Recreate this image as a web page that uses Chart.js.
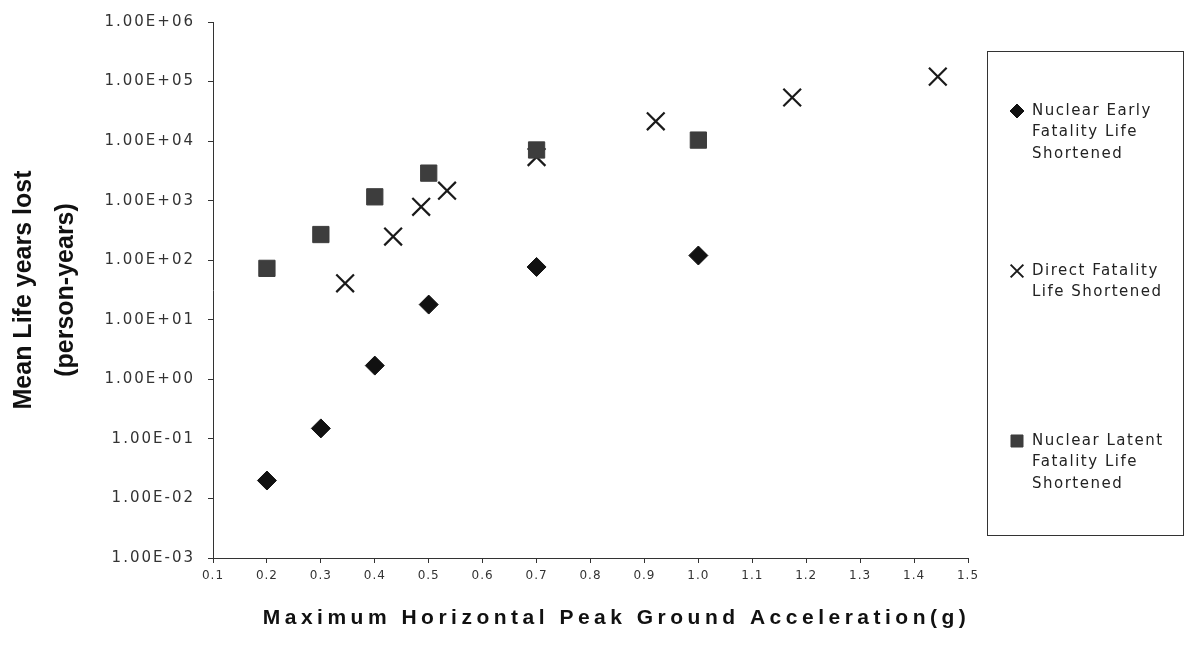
<!DOCTYPE html>
<html>
<head>
<meta charset="utf-8">
<script src="https://cdn.jsdelivr.net/npm/chart.js@4/dist/chart.umd.min.js"></script>
<style>
html,body{margin:0;padding:0;background:#fff;}
canvas{display:block;}
</style>
</head>
<body>
<canvas id="c" width="1185" height="646"></canvas>
<script>
// ---- data ----
const xTicks = [0.1,0.2,0.3,0.4,0.5,0.6,0.7,0.8,0.9,1.0,1.1,1.2,1.3,1.4,1.5];
const xTickLabels = ['0.1','0.2','0.3','0.4','0.5','0.6','0.7','0.8','0.9','1.0','1.1','1.2','1.3','1.4','1.5'];
const yTicks = [1e-3,1e-2,1e-1,1e0,1e1,1e2,1e3,1e4,1e5,1e6];
const yTickLabels = ['1.00E-03','1.00E-02','1.00E-01','1.00E+00','1.00E+01','1.00E+02','1.00E+03','1.00E+04','1.00E+05','1.00E+06'];

const seriesNames = ['Nuclear Early Fatality Life Shortened','Direct Fatality Life Shortened','Nuclear Latent Fatality Life Shortened'];
const legendLines = [['Nuclear Early','Fatality Life','Shortened'],['Direct Fatality','Life Shortened'],['Nuclear Latent','Fatality Life','Shortened']];

const earlyX = [0.2,0.3,0.4,0.5,0.7,1.0];
const earlyY = [0.02,0.15,1.7,18,77,120];
const directX = [0.345,0.434,0.486,0.534,0.70,0.921,1.174,1.444];
const directY = [41,250,790,1470,5400,21500,54000,121000];
const latentX = [0.2,0.3,0.4,0.5,0.7,1.0];
const latentY = [73,270,1160,2900,7100,10400];

const xTitle = 'Maximum Horizontal Peak Ground Acceleration(g)';
const yTitle = ['Mean Life years lost','(person-years)'];

function pts(xs, ys){ return xs.map((x,i)=>({x:x, y:ys[i]})); }

// ---- plugins ----
const spacingPlugin = {
  id:'spacing',
  afterLayout(chart){
    const cfg = {x:{title:'4.5px', labels:'1px', dx:26}, y:{title:'0px', labels:'2px', dx:0}};
    for (const id of ['x','y']) {
      const s = chart.scales[id];
      if (!s || s._wrappedSp) continue;
      const c = cfg[id];
      const oT = s.drawTitle, oL = s.drawLabels;
      s.drawTitle = function(...a){ const ctx=this.ctx; ctx.save(); ctx.letterSpacing=c.title; ctx.translate(c.dx,0); oT.apply(this,a); ctx.restore(); };
      s.drawLabels = function(...a){ const ctx=this.ctx; ctx.save(); ctx.letterSpacing=c.labels; oL.apply(this,a); ctx.restore(); };
      s._wrappedSp = true;
    }
  }
};

const legendPlugin = {
  id:'boxLegend',
  afterDraw(chart){
    const ctx = chart.ctx;
    ctx.save();
    ctx.strokeStyle = '#333';
    ctx.lineWidth = 1;
    ctx.strokeRect(987.5, 51.5, 196, 484);
    const starts = [111, 271, 441];
    const markers = [
      {pointStyle:'rectRot', radius:7, borderWidth:1, fill:'#111', stroke:'#111'},
      {pointStyle:'crossRot', radius:9, borderWidth:2, fill:'#1a1a1a', stroke:'#1a1a1a'},
      {pointStyle:'rect', radius:8.5, borderWidth:1, fill:'#3d3d3d', stroke:'#3d3d3d'}
    ];
    ctx.font = '15px "DejaVu Sans"';
    ctx.textBaseline = 'middle';
    ctx.textAlign = 'left';
    legendLines.forEach((lines, k) => {
      const m = markers[k];
      ctx.fillStyle = m.fill; ctx.strokeStyle = m.stroke; ctx.lineWidth = m.borderWidth;
      Chart.helpers.drawPoint(ctx, {pointStyle:m.pointStyle, radius:m.radius, rotation:0, borderWidth:m.borderWidth}, 1017, starts[k]);
      ctx.fillStyle = '#222';
      ctx.letterSpacing = '1.5px';
      lines.forEach((t, j) => ctx.fillText(t, 1032, starts[k] + j*21.5));
      ctx.letterSpacing = '0px';
    });
    ctx.restore();
  }
};

new Chart(document.getElementById('c'), {
  type:'scatter',
  data:{
    datasets:[
      {label:seriesNames[0], data:pts(earlyX, earlyY), pointStyle:'rectRot', pointRadius:9.5, backgroundColor:'#111', borderColor:'#111', borderWidth:1, order:2},
      {label:seriesNames[1], data:pts(directX, directY), pointStyle:'crossRot', pointRadius:12.5, backgroundColor:'#1a1a1a', borderColor:'#1a1a1a', borderWidth:2.2, order:1},
      {label:seriesNames[2], data:pts(latentX, latentY), pointStyle:'rect', pointRadius:11.5, backgroundColor:'#3d3d3d', borderColor:'#3d3d3d', borderWidth:1, order:0}
    ]
  },
  options:{
    responsive:false,
    animation:false,
    devicePixelRatio:1,
    events:[],
    layout:{padding:{top:18, right:217, left:0, bottom:0}},
    plugins:{legend:{display:false}, tooltip:{enabled:false}},
    scales:{
      x:{
        type:'linear', min:0.1, max:1.5,
        afterBuildTicks:s=>{ s.ticks = xTicks.map(v=>({value:v})); },
        afterFit:s=>{ s.height = 88; },
        ticks:{callback:(v,i)=>xTickLabels[i], font:{family:'DejaVu Sans', size:12}, color:'#333', padding:6, maxRotation:0, autoSkip:false},
        grid:{drawOnChartArea:false, tickLength:5, color:'#333'},
        border:{color:'#333'},
        title:{display:true, text:xTitle, font:{family:'Liberation Sans', size:21, weight:'bold'}, color:'#111', padding:{top:0, bottom:15}}
      },
      y:{
        type:'logarithmic', min:1e-3, max:1e6,
        afterBuildTicks:s=>{ s.ticks = yTicks.map(v=>({value:v})); },
        afterFit:s=>{ s.width = 213; },
        ticks:{callback:(v,i)=>yTickLabels[i], font:{family:'DejaVu Sans', size:15}, color:'#333', padding:13, autoSkip:false},
        grid:{drawOnChartArea:false, tickLength:5, color:'#333'},
        border:{color:'#333'},
        title:{display:true, text:yTitle, font:{family:'Liberation Sans', size:25, weight:'bold', lineHeight:1.68}, color:'#111', padding:{top:3, bottom:0}}
      }
    }
  },
  plugins:[spacingPlugin, legendPlugin]
});
</script>
</body>
</html>
